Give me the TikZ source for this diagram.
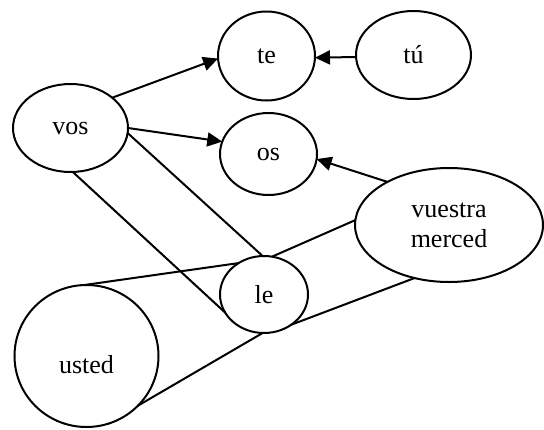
\documentclass[tikz,border=0pt]{standalone}
\usepackage{fontspec}
\setmainfont{Liberation Serif}
\usetikzlibrary{arrows.meta,shapes.geometric}
\begin{document}
\begin{tikzpicture}[x=1pt,y=-1pt,
  word/.style={ellipse,draw,line width=2pt,inner sep=0pt,outer sep=0pt,
    font=\fontsize{26}{30}\selectfont,align=center},
  link/.style={line width=2pt},
  arr/.style={link,-{Triangle[length=15pt,width=14pt]}}]
\useasboundingbox (0,0) rectangle (544,429);

% pronoun forms
\node[word,minimum width=97pt,minimum height=89pt]  (te)    at (266.5,56)  {te};
\node[word,minimum width=115pt,minimum height=88pt] (tu)    at (413.5,55)  {tú};
\node[word,minimum width=115pt,minimum height=88pt] (vos)   at (70.5,128)  {vos};
\node[word,minimum width=97pt,minimum height=82pt]  (os)    at (268.5,154) {os};
\node[word,minimum width=188pt,minimum height=114pt] (vm)   at (449,225)   {vuestra\\merced};
\node[word,minimum width=88pt,minimum height=77pt]  (le)    at (264,294.5) {le};
\node[word,minimum width=144pt,minimum height=142pt,text height=36pt] (usted) at (86.5,356) {usted};

% arrows
\draw[arr] (vos.36)  -- (te.183);
\draw[arr] (vos.0)   -- (os.165);
\draw[arr] (tu.182)  -- (te.-2);
\draw[arr] (vm.145)  -- (os.-6);

% plain links
\draw[link] (vos.-87)  -- (le.205);
\draw[link] (vos.-5)   -- (le.92);
\draw[link] (usted.92) -- (le.129);
\draw[link] (le.78)    -- (vm.177);
\draw[link] (le.-48)   -- (vm.-123);
\draw[link] (le.-92)   -- (usted.-44);
\end{tikzpicture}
\end{document}
